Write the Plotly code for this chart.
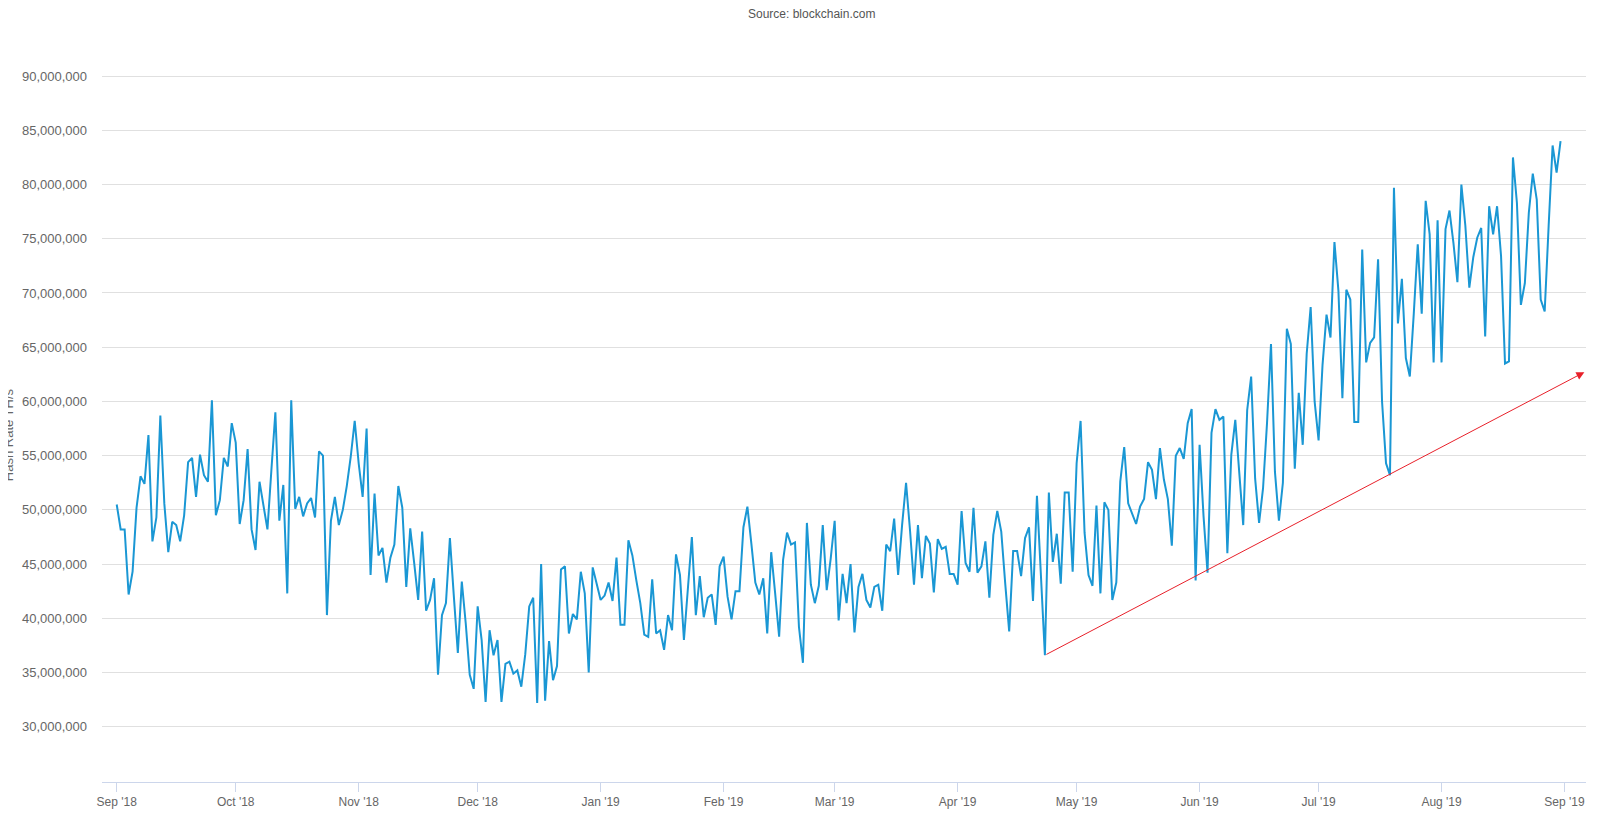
import pandas as pd
import plotly.graph_objects as go

# daily hash rate (millions of TH/s), from 1 Sep 2018
hash_rate_m = [
    # Sep 2018
    50.5, 48.2, 48.2, 42.2, 44.3, 50.2, 53.1, 52.4, 56.9, 47.1, 49.3, 58.7, 50.6, 46.1, 48.9,
    48.6, 47.1, 49.5, 54.4, 54.8, 51.2, 55.1, 53.2, 52.6, 60.1, 49.5, 50.9, 54.8, 54.0, 58.0,
    # Oct 2018
    56.2, 48.7, 50.9, 55.6, 48.2, 46.3, 52.6, 50.3, 48.2, 53.7, 59.0, 49.0, 52.3, 42.3, 60.1,
    50.1, 51.2, 49.4, 50.6, 51.1, 49.3, 55.4, 55.0, 40.3, 49.0, 51.2, 48.6, 50.0, 52.2, 54.9,
    58.2, 54.3,
    # Nov 2018
    51.2, 57.5, 44.0, 51.5, 45.8, 46.5, 43.3, 45.6, 46.8, 52.2, 50.2, 42.9, 48.3, 45.1, 41.7,
    48.0, 40.7, 41.7, 43.7, 34.8, 40.3, 41.4, 47.4, 42.0, 36.8, 43.4, 39.5, 34.8, 33.5, 41.1,
    38.0, 32.3,
    # Dec 2018
    38.9, 36.6, 38.0, 32.3, 35.8, 36.0, 34.9, 35.2, 33.7, 36.7, 41.1, 41.9, 32.2, 45.0, 32.4,
    37.9, 34.3, 35.6, 44.5, 44.8, 38.6, 40.4, 39.9, 44.3, 42.3, 35.0, 44.7, 43.2, 41.7, 42.1,
    43.3, 41.6,
    # Jan 2019
    45.6, 39.4, 39.4, 47.2, 45.8, 43.5, 41.4, 38.5, 38.3, 43.6, 38.6, 38.9, 37.1, 40.3, 38.9,
    45.9, 44.0, 38.0, 42.6, 47.5, 40.3, 43.9, 40.1, 41.9, 42.2, 39.4, 44.8, 45.7, 42.0, 39.9,
    42.5, 42.5, 48.4,
    # Feb 2019
    50.3, 46.9, 43.3, 42.2, 43.7, 38.6, 46.1, 42.3, 38.3, 45.4, 47.9, 46.8, 47.0, 39.2, 35.9,
    48.8, 43.1, 41.4, 43.0, 48.6, 42.6, 45.5, 49.0, 39.8, 44.1, 41.4, 45.0, 38.7, 42.9, 44.1,
    41.7, 41.0,
    # Mar 2019
    42.9, 43.1, 40.7, 46.8, 46.2, 49.2, 44.0, 48.6, 52.5, 48.1, 43.1, 48.6, 43.7, 47.6, 46.9,
    42.4, 47.3, 46.4, 46.6, 44.1, 44.1, 43.1, 49.9, 45.1, 44.3, 50.2, 44.2, 44.8, 47.1, 41.9,
    47.7, 49.9,
    # Apr 2019
    48.0, 43.2, 38.8, 46.2, 46.2, 43.9, 47.4, 48.4, 41.6, 51.3, 43.9, 36.6, 51.6, 45.2, 47.8,
    43.2, 51.6, 51.6, 44.3, 54.3, 58.2, 47.9, 44.0, 43.0, 50.4, 42.3, 50.7, 50.0, 41.7, 43.3,
    52.6, 55.8,
    # May 2019
    50.6, 49.7, 48.7, 50.3, 51.0, 54.4, 53.7, 51.0, 55.7, 52.8, 51.0, 46.7, 55.0, 55.7, 54.7,
    58.0, 59.3, 43.5, 56.0, 49.4, 44.2, 57.1, 59.3, 58.3, 58.6, 46.0, 55.1, 58.3, 53.1, 48.6,
    59.2, 62.3,
    # Jun 2019
    52.9, 48.8, 52.0, 58.0, 65.3, 53.5, 49.0, 52.5, 66.7, 65.3, 53.8, 60.8, 56.0, 64.4, 68.7,
    60.0, 56.4, 63.4, 68.0, 65.9, 74.7, 70.2, 60.3, 70.3, 69.4, 58.1, 58.1, 74.0, 63.6, 65.4,
    65.9, 73.1,
    # Jul 2019
    60.0, 54.3, 53.2, 79.7, 67.2, 71.3, 64.0, 62.3, 68.1, 74.5, 68.1, 78.5, 75.4, 63.6, 76.7,
    63.6, 75.9, 77.6, 74.6, 71.0, 80.0, 76.2, 70.5, 73.3, 75.1, 76.0, 66.0, 78.0, 75.4, 78.0,
    73.4, 63.5, 63.7,
    # Aug 2019
    82.5, 78.3, 68.9, 70.9, 77.4, 81.0, 78.6, 69.4, 68.3, 76.2, 83.6, 81.1, 84.0,
]
start_date = "2018-09-01"

y_ticks = [30e6, 35e6, 40e6, 45e6, 50e6, 55e6, 60e6, 65e6, 70e6, 75e6, 80e6, 85e6, 90e6]
month_ticks = pd.date_range("2018-09-01", "2019-09-01", freq="MS")

# red trend arrow: from the April low up past the end of the chart
arrow_from_after = "2019-04-01"
arrow_end_date = "2019-09-06"
arrow_end_value = 62.7e6

dates = pd.date_range(start_date, periods=len(hash_rate_m), freq="D")
values = [v * 1e6 for v in hash_rate_m]
s = pd.Series(values, index=dates)
low_date = s[arrow_from_after:].idxmin()
low_value = s[low_date]

FONT = "Liberation Sans, Arial, sans-serif"
L, R, T, B = 94, 22, 40, 28
PW, PH = 1600 - L - R, 813 - T - B

fig = go.Figure()
fig.add_trace(go.Scatter(
    x=dates, y=values, mode="lines", name="Hash Rate",
    line=dict(color="#1a97d4", width=2),
))

fig.add_annotation(
    x=arrow_end_date, y=arrow_end_value, ax=low_date, ay=low_value,
    xref="x", yref="y", axref="x", ayref="y",
    text="", showarrow=True, arrowhead=2, arrowsize=1.6, arrowwidth=1,
    arrowcolor="#e8202a", standoff=0, startstandoff=0,
)

# title and the axis title that sits half off the left edge
fig.add_annotation(
    text="Source: blockchain.com", xref="paper", yref="paper",
    x=(803 - L) / PW, y=(813 - B - 5) / PH, xanchor="center", yanchor="middle",
    showarrow=False, font=dict(family=FONT, size=12, color="#555"),
)
fig.add_annotation(
    text="Hash Rate TH/s", xref="paper", yref="paper", textangle=-90,
    x=(0 - L) / PW, y=(813 - B - 433) / PH, xanchor="center", yanchor="middle",
    showarrow=False, font=dict(family=FONT, size=13, color="#666"),
)

fig.update_layout(
    width=1600, height=813,
    paper_bgcolor="white", plot_bgcolor="white",
    margin=dict(l=L, r=R, t=T, b=B),
    showlegend=False,
    font=dict(family=FONT, color="#666"),
)
fig.update_xaxes(
    range=["2018-08-28 07:00", "2019-09-06 10:00"],
    tickvals=month_ticks, tickformat="%b '%y",
    showgrid=False, showline=True, linecolor="#ccd6eb", linewidth=1,
    ticks="outside", ticklen=9, tickcolor="#ccd6eb",
    tickfont=dict(family=FONT, size=12, color="#666"),
    zeroline=False,
)
fig.update_yaxes(
    range=[24.91e6, 92.59e6],
    tickvals=y_ticks, tickformat=",d",
    showgrid=True, gridcolor="#e0e0e0", gridwidth=1,
    showline=False, zeroline=False, ticks="",
    ticklabelstandoff=14,
    tickfont=dict(family=FONT, size=13, color="#666"),
)

fig.write_html("out.html")
